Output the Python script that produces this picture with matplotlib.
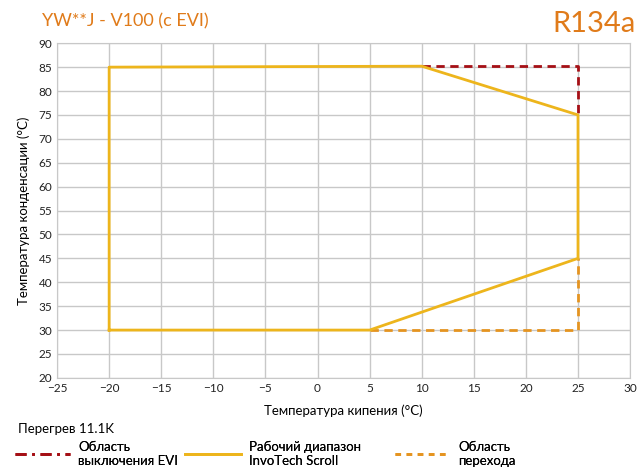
import matplotlib
matplotlib.use("Agg")
from matplotlib import pyplot as plt
from matplotlib.lines import Line2D

plt.rcParams['font.family'] = ['Lato', 'DejaVu Sans']

# operating envelope (evaporating, condensing)
env_x = [-20, -20, 10, 25, 25, 5, -20]
env_y = [30, 85, 85.2, 75, 45, 30, 30]
# EVI switch-off zone
evi_x = [10, 25, 25]
evi_y = [85.2, 85.2, 75]
# transition zone
trans_x = [5, 25, 25]
trans_y = [30, 30, 45]

x_ticks = list(range(-25, 31, 5))
y_ticks = list(range(20, 91, 5))

orange = "#E07B1A"
yellow = "#EDB51C"
red = "#A50F15"
dash_orange = "#E59420"

fig = plt.figure(figsize=(6.41, 4.70), dpi=100)
ax = fig.add_axes([0.089, 0.196, 0.894, 0.712])

ax.plot(evi_x, evi_y, color=red, lw=2, linestyle=(0, (3, 2)))
ax.plot(trans_x, trans_y, color=dash_orange, lw=2, linestyle=(0, (3, 2)))
ax.plot(env_x, env_y, color=yellow, lw=2)

ax.set_xlim(-25, 30)
ax.set_ylim(20, 90)
ax.set_xticks(x_ticks)
ax.set_yticks(y_ticks)
ax.tick_params(length=0, labelsize=8.5, colors="#222222")
ax.grid(color="#c8c8c8", lw=1)
ax.set_axisbelow(True)
for s in ax.spines.values():
    s.set_color("#c8c8c8")

ax.set_xlabel("Температура кипения (°C)", fontsize=9.5, labelpad=8)
ax.set_ylabel("Температура конденсации (°C)", fontsize=9.5, labelpad=6)

fig.text(0.065, 0.955, "YW**J - V100 (c EVI)", color=orange, fontsize=13, va="center")
fig.text(0.992, 0.950, "R134a", color=orange, fontsize=21, va="center", ha="right")
fig.text(0.028, 0.088, "Перегрев 11.1K", fontsize=9.5, va="center")

handles = [
    Line2D([], [], color=red, lw=2, linestyle=(0, (4, 2, 1, 2))),
    Line2D([], [], color=yellow, lw=2),
    Line2D([], [], color=dash_orange, lw=2, linestyle=(0, (2, 2))),
]
labels = ["Область\nвыключения EVI", "Рабочий диапазон\nInvoTech Scroll", "Область\nперехода"]
anchors = [0.0234, 0.289, 0.616]
for h, lab, xa in zip(handles, labels, anchors):
    leg = fig.legend([h], [lab], loc="center left", bbox_to_anchor=(xa, 0.034),
                     frameon=False, fontsize=9.5, handlelength=4.2,
                     handletextpad=0.6, borderpad=0, borderaxespad=0)
    fig.add_artist(leg)

fig.savefig("out.png", dpi=100)
